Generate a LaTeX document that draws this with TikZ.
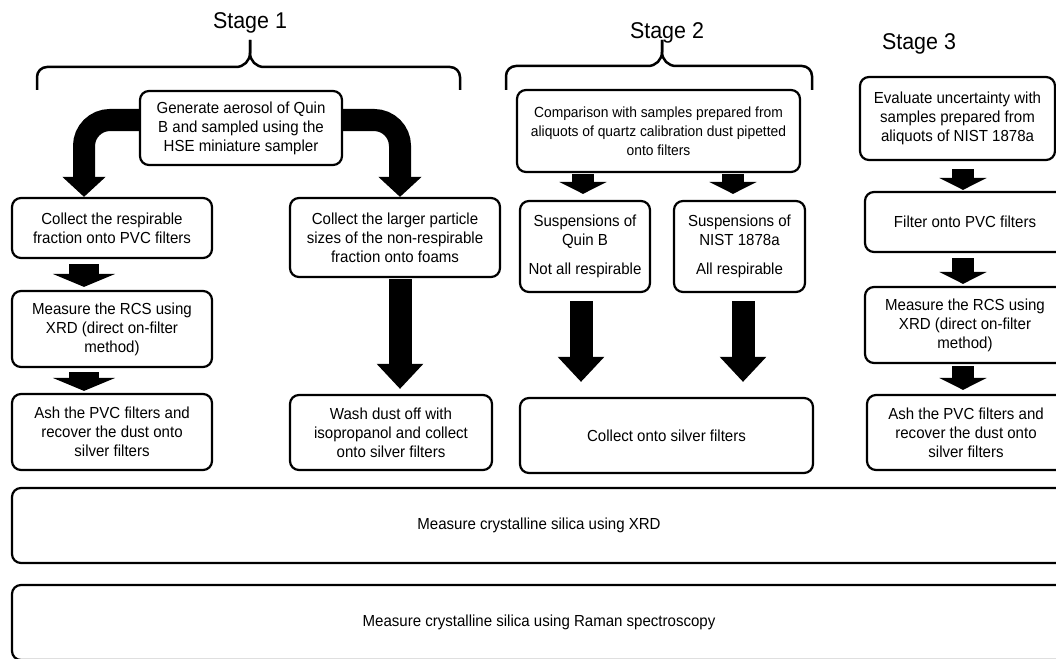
\documentclass[tikz,border=0pt]{standalone}
\usepackage{fontspec}
\setmainfont{Liberation Sans}[FakeStretch=0.94]
\usetikzlibrary{arrows.meta}

\begin{document}
\begin{tikzpicture}[x=1pt, y=-1pt,
  box/.style={draw, line width=2.2pt, rounded corners=9pt, align=center,
    inner sep=2pt, font=\fontsize{16}{19}\selectfont},
  stagelabel/.style={font=\fontsize{22.8}{26}\selectfont},
  brace/.style={line width=2.5pt},
  fatarrow/.style={line width=22pt, -{Triangle[length=12pt,width=47pt]}},
  widearrow/.style={line width=30pt, -{Triangle[length=13pt,width=62pt]}},
  longarrow/.style={line width=23pt, -{Triangle[length=25pt,width=45pt]}},
  bendarrow/.style={line width=22pt, rounded corners=26pt,
    -{Triangle[length=20pt,width=42pt]}}]
  \useasboundingbox[fill=white] (0,0) rectangle (1056,658);

  % stage labels and braces
  \node[stagelabel] (s1) at (250,23) {Stage 1};
  \node[stagelabel] (s2) at (667,33) {Stage 2};
  \node[stagelabel] (s3) at (919,44) {Stage 3};
  \draw[brace] (37,90) -- (37,77) to[out=90,in=180] (47,67) -- (236,67)
    to[out=0,in=-90] (250,53) -- (250,40);
  \draw[brace] (460,90) -- (460,77) to[out=90,in=0] (450,67) -- (264,67)
    to[out=180,in=-90] (250,53) -- (250,40);
  \draw[brace] (506,90) -- (506,76) to[out=90,in=180] (516,66) -- (648,66)
    to[out=0,in=-90] (662,52) -- (662,40);
  \draw[brace] (812,90) -- (812,76) to[out=90,in=0] (802,66) -- (676,66)
    to[out=180,in=-90] (662,52) -- (662,40);

  % stage 1
  \node[box, minimum width=202pt, minimum height=74pt] (gen) at (241,128)
    {Generate aerosol of Quin\\B and sampled using the\\HSE miniature sampler};
  \node[box, minimum width=200pt, minimum height=60pt] (resp) at (112,228)
    {Collect the respirable\\fraction onto PVC filters};
  \node[box, minimum width=210pt, minimum height=79pt] (foam) at (395,237.5)
    {Collect the larger particle\\sizes of the non-respirable\\fraction onto foams};
  \node[box, minimum width=200pt, minimum height=76pt] (rcs1) at (112,329)
    {Measure the RCS using\\XRD (direct on-filter\\method)};
  \node[box, minimum width=200pt, minimum height=76pt] (ash1) at (112,432)
    {Ash the PVC filters and\\recover the dust onto\\silver filters};
  \node[box, minimum width=202pt, minimum height=75pt] (wash) at (391,432.5)
    {Wash dust off with\\isopropanol and collect\\onto silver filters};

  % stage 2
  \node[box, minimum width=283pt, minimum height=82pt, font=\fontsize{14.7}{19}\selectfont]
    (comp) at (658.5,131)
    {Comparison with samples prepared from\\aliquots of quartz calibration dust pipetted\\onto filters};
  \node[box, minimum width=130pt, minimum height=91pt] (susq) at (585,246.5)
    {Suspensions of\\Quin B\\[10pt]Not all respirable};
  \node[box, minimum width=131pt, minimum height=91pt] (susn) at (739.5,246.5)
    {Suspensions of\\NIST 1878a\\[10pt]All respirable};
  \node[box, minimum width=293pt, minimum height=75pt] (silv) at (666.5,435.5)
    {Collect onto silver filters};

  % stage 3
  \node[box, minimum width=195pt, minimum height=83pt] (eval) at (957.5,118.5)
    {Evaluate uncertainty with\\samples prepared from\\aliquots of NIST 1878a};
  \node[box, minimum width=200pt, minimum height=60pt] (filt) at (965,222)
    {Filter onto PVC filters};
  \node[box, minimum width=200pt, minimum height=76pt] (rcs3) at (965,325)
    {Measure the RCS using\\XRD (direct on-filter\\method)};
  \node[box, minimum width=198pt, minimum height=75pt] (ash3) at (966,432.5)
    {Ash the PVC filters and\\recover the dust onto\\silver filters};

  % common measurements
  \node[box, minimum width=1054pt, minimum height=75pt] (xrd) at (539,525.5)
    {Measure crystalline silica using XRD};
  \node[box, minimum width=1054pt, minimum height=75pt] (raman) at (539,622.5)
    {Measure crystalline silica using Raman spectroscopy};

  % arrows
  \coordinate (lb) at (84,120);
  \coordinate (rb) at (400,120);
  \draw[bendarrow] (gen.west |- lb) -| (lb |- resp.north);
  \draw[bendarrow] (gen.east |- rb) -| (rb |- foam.north);
  \draw[widearrow, shorten <=5pt, shorten >=3pt] (resp.south -| 84,0) -- (rcs1.north -| 84,0);
  \draw[widearrow, shorten <=4pt, shorten >=2pt] (rcs1.south -| 84,0) -- (ash1.north -| 84,0);
  \draw[longarrow, shorten <=1pt, shorten >=5pt] (foam.south -| 400,0) -- (wash.north -| 400,0);
  \draw[fatarrow, shorten <=1pt, shorten >=6pt] (comp.south -| 583,0) -- (susq.north -| 583,0);
  \draw[fatarrow, shorten <=1pt, shorten >=6pt] (comp.south -| 733,0) -- (susn.north -| 733,0);
  \draw[longarrow, shorten <=8pt, shorten >=15pt] (susq.south -| 581,0) -- (silv.north -| 581,0);
  \draw[longarrow, shorten <=8pt, shorten >=15pt] (susn.south -| 743,0) -- (silv.north -| 743,0);
  \draw[fatarrow, shorten <=8pt, shorten >=1pt] (eval.south -| 963,0) -- (filt.north -| 963,0);
  \draw[fatarrow, shorten <=5pt, shorten >=2pt] (filt.south -| 963,0) -- (rcs3.north -| 963,0);
  \draw[fatarrow, shorten <=2pt, shorten >=4pt] (rcs3.south -| 963,0) -- (ash3.north -| 963,0);
\end{tikzpicture}
\end{document}
